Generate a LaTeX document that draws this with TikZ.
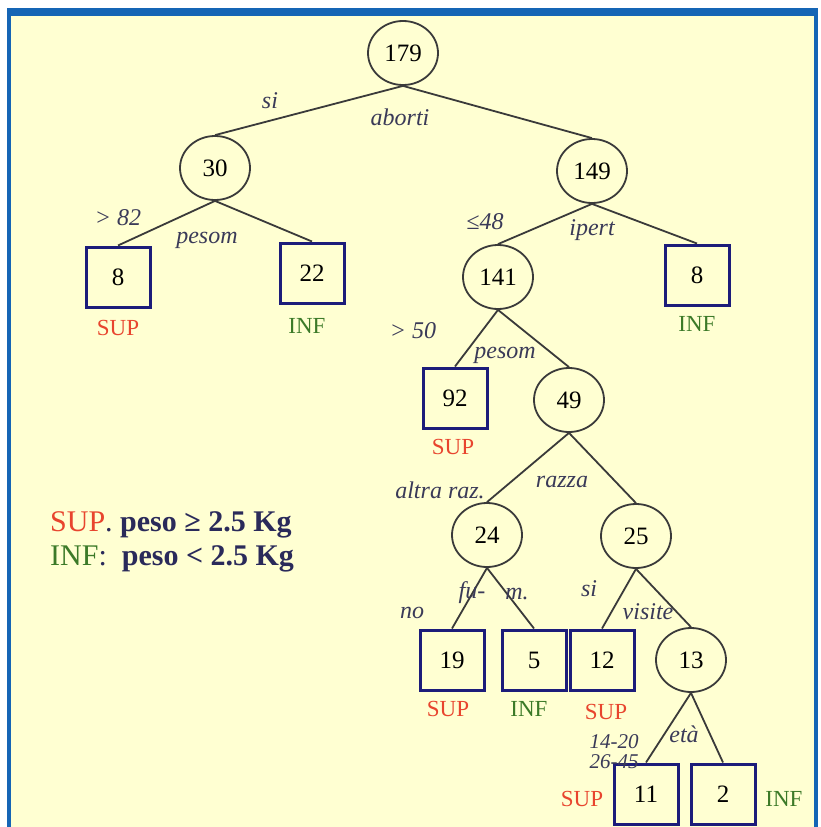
\documentclass[tikz,border=0pt]{standalone}
\usepackage{fontspec}
\setmainfont{Liberation Serif}
\usetikzlibrary{shapes.geometric}
\definecolor{bg}{HTML}{FFFFD2}
\definecolor{frameblue}{HTML}{1565B5}
\definecolor{navy}{HTML}{1C1C7A}
\definecolor{supred}{HTML}{E8452E}
\definecolor{infgreen}{HTML}{3C7A28}
\definecolor{lbl}{HTML}{3A3A58}
\definecolor{circ}{HTML}{3A3A3A}
\definecolor{legtext}{HTML}{2A2A5A}
\begin{document}
\begin{tikzpicture}[x=1pt,y=-1pt,
  cnode/.style={ellipse,draw=circ,line width=1.8pt,minimum width=70pt,minimum height=64pt,inner sep=0pt,font=\fontsize{25}{28}\selectfont},
  leaf/.style={rectangle,draw=navy,line width=3pt,minimum width=64pt,minimum height=60pt,inner sep=0pt,font=\fontsize{25}{28}\selectfont},
  edge/.style={draw=circ,line width=1.8pt},
  elab/.style={font=\fontsize{24}{26}\selectfont\itshape,text=lbl,inner sep=1pt},
  suplab/.style={text=supred,font=\fontsize{23}{26}\selectfont,inner sep=0pt},
  inflab/.style={text=infgreen,font=\fontsize{23}{26}\selectfont,inner sep=0pt},
  legend/.style={anchor=west,inner sep=0pt,font=\fontsize{30}{34}\selectfont,text=legtext}
]
\useasboundingbox (0,0) rectangle (821,827);
\fill[white] (0,0) rectangle (821,827);
\fill[frameblue] (7,8) rectangle (818,827);
\fill[bg] (11,16) rectangle (814,827);

% internal nodes
\node[cnode] (n179) at (403,53) {179};
\node[cnode] (n30) at (215,168) {30};
\node[cnode] (n149) at (592,171) {149};
\node[cnode] (n141) at (498,277) {141};
\node[cnode] (n49) at (569,400) {49};
\node[cnode] (n24) at (487,535) {24};
\node[cnode] (n25) at (636,536) {25};
\node[cnode] (n13) at (691,660) {13};

% leaves
\node[leaf] (l8a) at (118,277) {8};
\node[leaf] (l22) at (312,273) {22};
\node[leaf] (l8b) at (697,275) {8};
\node[leaf] (l92) at (455,398) {92};
\node[leaf] (l19) at (452,660) {19};
\node[leaf] (l5) at (534,660) {5};
\node[leaf] (l12) at (602,660) {12};
\node[leaf] (l11) at (646,794) {11};
\node[leaf] (l2) at (723,794) {2};

% class labels
\node[suplab] (s8a) at (118,328) {SUP};
\node[inflab] (i22) at (307,326) {INF};
\node[inflab] (i8b) at (697,324) {INF};
\node[suplab] (s92) at (453,447) {SUP};
\node[suplab] (s19) at (448,709) {SUP};
\node[inflab] (i5) at (529,709) {INF};
\node[suplab] (s12) at (606,712) {SUP};
\node[suplab] (s11) at (582,799) {SUP};
\node[inflab] (i2) at (784,799) {INF};

% edges
\draw[edge] (n179.south) -- (n30.north);
\draw[edge] (n179.south) -- (n149.north);
\draw[edge] (n30.south) -- (l8a.north);
\draw[edge] (n30.south) -- (l22.north);
\draw[edge] (n149.south) -- (n141.north);
\draw[edge] (n149.south) -- (l8b.north);
\draw[edge] (n141.south) -- (l92.north);
\draw[edge] (n141.south) -- (n49.north);
\draw[edge] (n49.south) -- (n24.north);
\draw[edge] (n49.south) -- (n25.north);
\draw[edge] (n24.south) -- (l19.north);
\draw[edge] (n24.south) -- (l5.north);
\draw[edge] (n25.south) -- (l12.north);
\draw[edge] (n25.south) -- (n13.north);
\draw[edge] (n13.south) -- (l11.north);
\draw[edge] (n13.south) -- (l2.north);

% edge labels
\node[elab] (e1) at (270,101) {si};
\node[elab] (e2) at (400,117) {aborti};
\node[elab] (e3) at (118,218) {> 82};
\node[elab] (e4) at (207,240) {pesom};
\node[elab] (e5) at (485,222) {≤48};
\node[elab] (e6) at (592,230) {ipert};
\node[elab] (e7) at (413,331) {> 50};
\node[elab] (e8) at (505,355) {pesom};
\node[elab] (e9) at (440,490) {altra  raz.};
\node[elab] (e10) at (562,482) {razza};
\node[elab] (e11) at (412,613) {no};
\node[elab] (e12) at (472,593) {fu-};
\node[elab] (e13) at (517,594) {m.};
\node[elab] (e14) at (589,589) {si};
\node[elab] (e15) at (648,612) {visite};
\node[elab] (e16) at (684,734) {età};
\node[elab,align=left,font=\fontsize{21}{20}\selectfont\itshape] (e17) at (614,752) {14-20\\26-45};

% legend
\node[legend] (leg1) at (50,525) {\textcolor{supred}{SUP}. \textbf{peso ≥ 2.5 Kg}};
\node[legend] (leg2) at (50,559) {\textcolor{infgreen}{INF}:\ \ \textbf{peso < 2.5 Kg}};
\end{tikzpicture}
\end{document}
